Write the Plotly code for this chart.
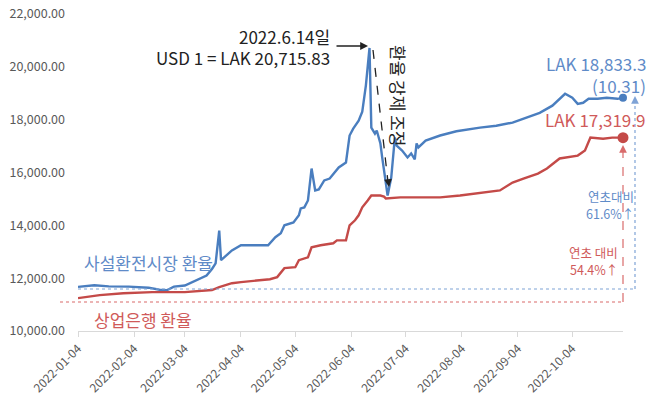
import plotly.graph_objects as go

# ---------------- data ----------------
blue_dates = ["2022-01-04","2022-01-13","2022-01-21","2022-02-01","2022-02-12","2022-02-18","2022-02-22",
              "2022-02-26","2022-03-04","2022-03-10","2022-03-16","2022-03-19","2022-03-21","2022-03-23",
              "2022-03-24","2022-03-30","2022-04-04","2022-04-19","2022-04-23","2022-04-26","2022-04-28",
              "2022-05-03","2022-05-06","2022-05-07","2022-05-09","2022-05-11","2022-05-13","2022-05-15",
              "2022-05-17","2022-05-20","2022-05-23","2022-05-28","2022-06-01","2022-06-03","2022-06-05",
              "2022-06-08","2022-06-10","2022-06-12","2022-06-13","2022-06-14","2022-06-15","2022-06-17",
              "2022-06-18","2022-06-20","2022-06-21","2022-06-23","2022-06-24","2022-06-26","2022-06-27",
              "2022-06-28","2022-06-29","2022-07-02","2022-07-05","2022-07-07","2022-07-09","2022-07-10",
              "2022-07-11","2022-07-15","2022-07-23","2022-08-01","2022-08-14","2022-08-23","2022-09-01",
              "2022-09-09","2022-09-16","2022-09-23","2022-09-30","2022-10-04","2022-10-07","2022-10-10",
              "2022-10-13","2022-10-18","2022-10-23","2022-10-29","2022-11-01"]
blue_values = [11670,11730,11690,11680,11640,11560,11540,
               11680,11720,11900,12100,12350,12560,13800,
               12680,13050,13250,13245,13550,13700,14000,
               14110,14380,14640,14680,14940,16150,15320,
               15360,15700,15770,16190,16380,17400,17660,
               17960,18300,19300,20100,20715.83,17700,17470,
               17590,17100,16570,15700,15130,15810,16450,
               17320,17020,16830,16570,16720,16500,17100,
               16950,17210,17400,17560,17700,17770,17890,
               18075,18260,18530,18980,18830,18600,18640,
               18790,18790,18830,18790,18833.3]

red_dates = ["2022-01-04","2022-01-16","2022-01-29","2022-02-14","2022-03-04","2022-03-19","2022-03-23",
             "2022-03-30","2022-04-04","2022-04-20","2022-04-24","2022-04-28","2022-05-04","2022-05-06",
             "2022-05-11","2022-05-13","2022-05-18","2022-05-25","2022-05-27","2022-06-01","2022-06-03",
             "2022-06-06","2022-06-08","2022-06-10","2022-06-13","2022-06-15","2022-06-20","2022-06-22",
             "2022-06-23","2022-07-01","2022-07-23","2022-08-03","2022-08-25","2022-09-01","2022-09-07",
             "2022-09-15","2022-09-20","2022-09-27","2022-10-07","2022-10-11","2022-10-14","2022-10-21",
             "2022-10-26","2022-11-01"]
red_values = [11245,11360,11430,11470,11470,11550,11660,
              11810,11850,11960,12040,12380,12415,12680,
              12790,13170,13245,13320,13430,13430,14000,
              14190,14380,14680,14940,15130,15130,15090,
              15020,15060,15060,15130,15320,15620,15770,
              15960,16150,16530,16640,16830,17320,17280,
              17320,17319.9]

tick_dates = ["2022-01-04","2022-02-04","2022-03-04","2022-04-04","2022-05-04",
              "2022-06-04","2022-07-04","2022-08-04","2022-09-04","2022-10-04"]

BLUE = "#4A7EBF"
RED = "#C44A48"
BLUE_T = "#5F8BC8"
RED_T = "#D05A5A"
FONT = "Noto Sans CJK KR"

# plot area in pixels (for paper conversions)
L, R, T, B = 78, 623, 14, 331
def px(x): return (x - L) / (R - L)
def py(y): return (B - y) / (B - T)

fig = go.Figure()
fig.add_trace(go.Scatter(x=blue_dates, y=blue_values, mode="lines",
                         line=dict(color=BLUE, width=2.4), hoverinfo="skip"))
fig.add_trace(go.Scatter(x=red_dates, y=red_values, mode="lines",
                         line=dict(color=RED, width=2.4), hoverinfo="skip"))
fig.add_trace(go.Scatter(x=[blue_dates[-1]], y=[blue_values[-1]], mode="markers",
                         marker=dict(color=BLUE, size=8), cliponaxis=False, hoverinfo="skip"))
fig.add_trace(go.Scatter(x=[red_dates[-1]], y=[red_values[-1]], mode="markers",
                         marker=dict(color=RED, size=11), cliponaxis=False, hoverinfo="skip"))

shapes = [
    dict(type="line", xref="paper", yref="paper", x0=px(78), x1=px(635), y0=py(289), y1=py(289),
         line=dict(color="#7FA3D6", width=1.2, dash="dot")),
    dict(type="line", xref="paper", yref="paper", x0=px(60), x1=px(623), y0=py(302), y1=py(302),
         line=dict(color="#D96B6B", width=1.2, dash="dot")),
    dict(type="line", xref="paper", yref="paper", x0=px(635), x1=px(635), y0=py(289), y1=py(101),
         line=dict(color="#7FA3D6", width=1.2, dash="dot")),
    dict(type="line", xref="paper", yref="paper", x0=px(623), x1=px(623), y0=py(302), y1=py(150),
         line=dict(color="#D96B6B", width=1.2, dash="dash")),
    dict(type="line", xref="paper", yref="paper", x0=px(373), x1=px(388), y0=py(50), y1=py(182),
         line=dict(color="#222222", width=1.3, dash="dash")),
]

def arrowhead(x, y, dx, dy, color):
    return dict(xref="paper", yref="paper", x=px(x), y=py(y), ax=dx, ay=dy, axref="pixel", ayref="pixel",
                text="", showarrow=True, arrowhead=2, arrowsize=1.2, arrowwidth=1.3, arrowcolor=color)

def label(x, y, text, size, color, anchor="right", angle=0):
    return dict(xref="paper", yref="paper", x=px(x), y=py(y), text=text, showarrow=False,
                xanchor=anchor, yanchor="middle", textangle=angle,
                font=dict(family=FONT, size=size, color=color))

annotations = [
    label(332, 36, "2022.6.14일", 17, "#222222"),
    label(332, 57, "USD 1 = LAK 20,715.83", 17, "#222222"),
    dict(xref="paper", yref="paper", x=px(368), y=py(46), ax=-33, ay=0, axref="pixel", ayref="pixel",
         text="", showarrow=True, arrowhead=2, arrowsize=1.2, arrowwidth=1.3, arrowcolor="#222222"),
    arrowhead(389, 187, -1, -8, "#222222"),
    label(398, 95, "환율 강제 조정", 17, "#222222", anchor="center", angle=90),
    label(148, 262, "사설환전시장 환율", 17, BLUE_T, anchor="center"),
    label(143, 319, "상업은행 환율", 17, RED_T, anchor="center"),
    label(648, 63, "LAK 18,833.3", 17, BLUE_T),
    label(648, 85, "(10.31)", 17, BLUE_T),
    label(647, 119, "LAK 17,319.9", 17, RED_T),
    label(636, 196, "연초대비", 12.5, BLUE_T),
    label(636, 213, "61.6%↑", 12.5, BLUE_T),
    label(620, 252, "연초 대비", 12.5, RED_T),
    label(620, 269, "54.4%↑", 12.5, RED_T),
    arrowhead(635, 96, 0, 8, "#7FA3D6"),
    arrowhead(623, 145, 0, 8, "#D96B6B"),
]

fig.update_layout(
    width=650, height=398,
    margin=dict(l=L, r=650 - R, t=T, b=398 - B),
    paper_bgcolor="white", plot_bgcolor="white",
    showlegend=False,
    font=dict(family=FONT),
    shapes=shapes, annotations=annotations,
    xaxis=dict(type="date", range=["2022-01-04", "2022-11-01"], automargin=False,
               tickvals=tick_dates, ticktext=tick_dates, tickangle=-45,
               tickfont=dict(family=FONT, size=12, color="#595959"),
               showgrid=False, zeroline=False, showline=True, linecolor="#D9D9D9", linewidth=1,
               ticks="outside", ticklen=5, tickcolor="#D9D9D9"),
    yaxis=dict(range=[10000, 22000], tickvals=[10000, 12000, 14000, 16000, 18000, 20000, 22000],
               automargin=False,
               tickformat=",.2f", tickfont=dict(family=FONT, size=12.5, color="#595959"),
               showgrid=False, zeroline=False, showline=False, ticks="", ticklabelstandoff=12),
)

fig.write_html("out.html", config={"displayModeBar": False, "staticPlot": True},
               post_script="document.body.style.margin='0px';document.body.style.padding='0px';"
                           "document.body.style.overflow='hidden';")
